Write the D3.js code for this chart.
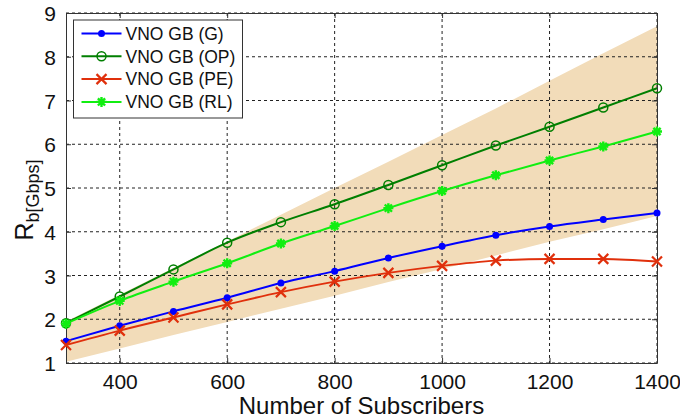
<!DOCTYPE html>
<html>
<head>
<meta charset="utf-8">
<script src="https://cdn.jsdelivr.net/npm/d3@7"></script>
<style>
body { margin: 0; background: #fff; }
text { font-family: "Liberation Sans", Arial, sans-serif; }
</style>
</head>
<body>
<script>
var subscribers = [300, 400, 500, 600, 700, 800, 900, 1000, 1100, 1200, 1300, 1400];
var seriesNames = ["VNO GB (G)", "VNO GB (OP)", "VNO GB (PE)", "VNO GB (RL)"];
var gValues  = [1.50, 1.85, 2.18, 2.49, 2.83, 3.10, 3.40, 3.67, 3.92, 4.12, 4.28, 4.43];
var opValues = [1.91, 2.52, 3.14, 3.75, 4.22, 4.63, 5.07, 5.52, 5.97, 6.40, 6.84, 7.28];
var peValues = [1.41, 1.74, 2.04, 2.34, 2.62, 2.86, 3.06, 3.22, 3.34, 3.38, 3.38, 3.32];
var rlValues = [1.90, 2.42, 2.86, 3.28, 3.73, 4.13, 4.54, 4.93, 5.29, 5.63, 5.95, 6.29];
var bandLow  = [1.03, 1.33, 1.64, 1.94, 2.24, 2.54, 2.85, 3.15, 3.46, 3.77, 4.06, 4.36];
var bandHigh = [1.95, 2.56, 3.17, 3.78, 4.39, 5.00, 5.60, 6.21, 6.82, 7.45, 8.08, 8.70];
var xTicks = [400, 600, 800, 1000, 1200, 1400];
var yTicks = [1, 2, 3, 4, 5, 6, 7, 8, 9];

var width = 680, height = 418;
var margin = {top: 13, right: 23, bottom: 55, left: 66};
var w = width - margin.left - margin.right;
var h = height - margin.top - margin.bottom;

var x = d3.scaleLinear().domain([300, 1400]).range([0, w]);
var y = d3.scaleLinear().domain([1, 9]).range([h, 0]);

var svg = d3.select("body").append("svg")
	.attr("width", width)
	.attr("height", height);

var g = svg.append("g")
	.attr("transform", "translate(" + margin.left + "," + margin.top + ")");

// shaded band
var area = d3.area()
	.x((d, i) => x(subscribers[i]))
	.y0((d, i) => y(bandLow[i]))
	.y1((d, i) => y(bandHigh[i]));
g.append("path")
	.datum(subscribers)
	.attr("d", area)
	.attr("fill", "#f2dcb9");

// grid
g.selectAll(".xgrid").data(xTicks).enter().append("line")
	.attr("x1", d => x(d)).attr("x2", d => x(d))
	.attr("y1", 0).attr("y2", h)
	.attr("stroke", "#222").attr("stroke-width", 1)
	.attr("stroke-dasharray", "3,3");
g.selectAll(".ygrid").data(yTicks).enter().append("line")
	.attr("y1", d => y(d)).attr("y2", d => y(d))
	.attr("x1", 0).attr("x2", w)
	.attr("stroke", "#222").attr("stroke-width", 1)
	.attr("stroke-dasharray", "3,3");

// axes
var bottomAxis = d3.axisBottom(x).tickValues(xTicks).tickFormat(d3.format("d"))
	.tickSizeInner(-5).tickSizeOuter(0).tickPadding(11);
var gx = g.append("g")
	.attr("transform", "translate(0," + h + ")")
	.call(bottomAxis);
var leftAxis = d3.axisLeft(y).tickValues(yTicks).tickSizeInner(-5).tickSizeOuter(0).tickPadding(10);
var gy = g.append("g").call(leftAxis);
var topAxis = d3.axisTop(x).tickValues(xTicks).tickSizeInner(-5).tickSizeOuter(0).tickFormat("");
g.append("g").call(topAxis);
var rightAxis = d3.axisRight(y).tickValues(yTicks).tickSizeInner(-5).tickSizeOuter(0).tickFormat("");
g.append("g").attr("transform", "translate(" + w + ",0)").call(rightAxis);

g.selectAll(".domain").attr("stroke", "#333");
g.selectAll(".tick line").attr("stroke", "#333");
g.selectAll(".tick text")
	.attr("fill", "#111")
	.style("font-size", "21px")
	.style("font-family", "'Liberation Sans', Arial, sans-serif");
gy.selectAll(".tick text").attr("dy", "0.36em");

// series
var series = [
	{name: seriesNames[0], values: gValues, color: "#0000ff", marker: "dot"},
	{name: seriesNames[1], values: opValues, color: "#007f00", marker: "circle"},
	{name: seriesNames[2], values: peValues, color: "#e0300c", marker: "x"},
	{name: seriesNames[3], values: rlValues, color: "#11ee11", marker: "star"}
];

var line = d3.line()
	.x((d, i) => x(subscribers[i]))
	.y(d => y(d))
	.curve(d3.curveMonotoneX);

function drawMarker(sel, type, color) {
	if (type === "dot") {
		sel.append("circle").attr("r", 3.5).attr("fill", color);
	} else if (type === "circle") {
		sel.append("circle").attr("r", 4.5).attr("fill", "none")
			.attr("stroke", color).attr("stroke-width", 1.5);
	} else if (type === "x") {
		sel.append("path").attr("d", "M-5,-5L5,5M-5,5L5,-5")
			.attr("stroke", color).attr("stroke-width", 2.2);
	} else {
		sel.append("path").attr("d", "M-5,0L5,0M0,-5L0,5M-3.6,-3.6L3.6,3.6M-3.6,3.6L3.6,-3.6")
			.attr("stroke", color).attr("stroke-width", 2.4);
	}
}

series.forEach(s => {
	g.append("path")
		.datum(s.values)
		.attr("d", line)
		.attr("fill", "none")
		.attr("stroke", s.color)
		.attr("stroke-width", 2);
	s.values.forEach((v, i) => {
		var m = g.append("g")
			.attr("transform", "translate(" + x(subscribers[i]) + "," + y(v) + ")");
		drawMarker(m, s.marker, s.color);
	});
});

// legend
var legend = g.append("g").attr("transform", "translate(7.5,7)");
legend.append("rect")
	.attr("width", 169).attr("height", 98)
	.attr("fill", "#fff").attr("stroke", "#333").attr("stroke-width", 1);
series.forEach((s, i) => {
	var row = legend.append("g").attr("transform", "translate(0," + (13.5 + i * 22.8) + ")");
	row.append("line").attr("x1", 8).attr("x2", 48)
		.attr("stroke", s.color).attr("stroke-width", 2);
	var m = row.append("g").attr("transform", "translate(28,0)");
	drawMarker(m, s.marker, s.color);
	row.append("text")
		.attr("x", 52).attr("dy", "0.36em")
		.style("font-size", "17.5px")
		.attr("fill", "#111")
		.text(s.name);
});

// axis labels
g.append("text")
	.attr("x", w / 2)
	.attr("y", h + 51)
	.attr("text-anchor", "middle")
	.style("font-size", "24px")
	.attr("fill", "#111")
	.text("Number of Subscribers");

var yl = svg.append("text")
	.attr("transform", "translate(33,200) rotate(-90)")
	.attr("text-anchor", "middle")
	.attr("fill", "#111");
yl.append("tspan").style("font-size", "25px").text("R");
yl.append("tspan").attr("dy", 6).style("font-size", "18px").text("b[Gbps]");
</script>
</body>
</html>
